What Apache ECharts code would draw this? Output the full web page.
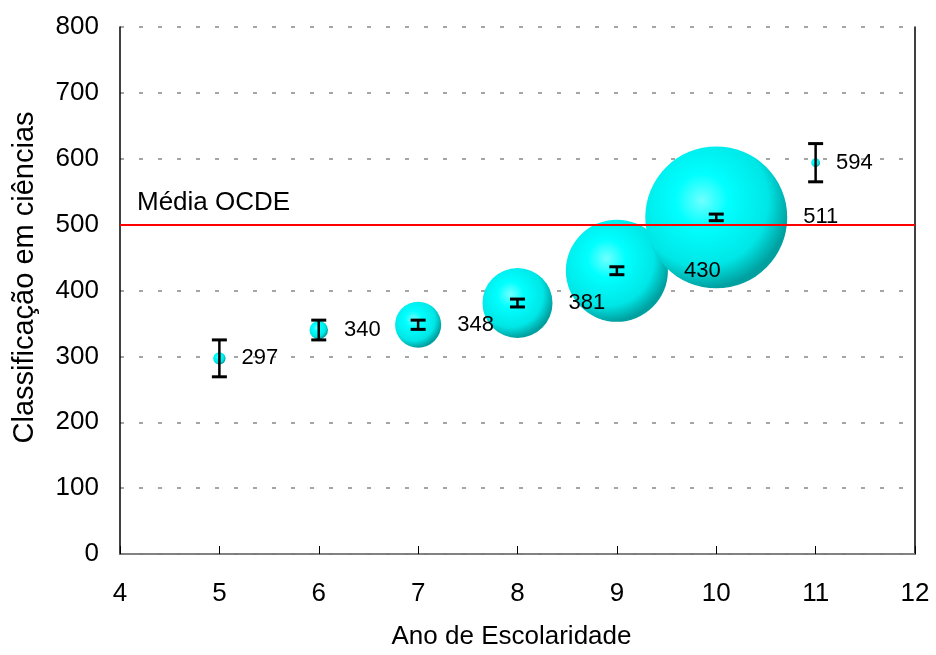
<!DOCTYPE html>
<html>
<head>
<meta charset="utf-8">
<script src="https://cdn.jsdelivr.net/npm/echarts@6/dist/echarts.min.js"></script>
<style>
  html, body { margin: 0; padding: 0; background: #fff; }
  #chart { width: 936px; height: 655px; }
</style>
</head>
<body>
<div id="chart"></div>
<script>
// ano de escolaridade, classificacao, % de alunos (tamanho da bolha), erro padrao
var anos = [5, 6, 7, 8, 9, 10, 11];
var scores = [297, 340, 348, 381, 430, 511, 594];
var alunos = [0.4, 0.9, 5.6, 12.9, 27.4, 53.0, 0.2];
var erros = [28, 15, 7, 6, 6, 5, 29];
var mediaOCDE = 500;

var font = 'Arial, "Liberation Sans", sans-serif';

var chartDom = document.getElementById('chart');
var chart = echarts.init(chartDom);

var bubbleData = anos.map(function (a, i) { return [a, scores[i], alunos[i]]; });
var errData = anos.map(function (a, i) { return [a, scores[i] - erros[i], scores[i] + erros[i]]; });

var bubbleColor = {
  type: 'radial', x: 0.4, y: 0.38, r: 0.62,
  colorStops: [
    { offset: 0, color: '#70ffff' },
    { offset: 0.3, color: '#00ffff' },
    { offset: 0.75, color: '#00e6e6' },
    { offset: 1, color: '#00a0a0' }
  ]
};

var option = {
  animation: false,
  textStyle: { fontFamily: font },
  grid: { left: 120, right: 21, top: 27, bottom: 100 },
  xAxis: [{
    type: 'value',
    min: 4, max: 12, interval: 1,
    name: 'Ano de Escolaridade',
    nameLocation: 'middle',
    nameGap: 70,
    nameTextStyle: { fontSize: 26, color: '#000', fontFamily: font, padding: [0, 12, 0, 0] },
    axisLine: { show: true, onZero: false, lineStyle: { color: '#000', width: 1.5 } },
    axisTick: { show: true, inside: true, length: 8, lineStyle: { color: '#000' } },
    axisLabel: { fontSize: 26, color: '#000', margin: 27, fontFamily: font },
    splitLine: { show: false }
  }, {
    type: 'value', position: 'top',
    min: 4, max: 12, interval: 1,
    axisLine: { show: true, lineStyle: { color: '#999', width: 1.5 } },
    axisTick: { show: false }, axisLabel: { show: false }, splitLine: { show: false }
  }],
  yAxis: [{
    type: 'value',
    min: 0, max: 800, interval: 100,
    name: 'Classificação em ciências',
    nameLocation: 'middle',
    nameGap: 81,
    nameTextStyle: { fontSize: 29, color: '#000', fontFamily: font, padding: [0, 0, 0, 26] },
    axisLine: { show: true, lineStyle: { color: '#000', width: 1.5 } },
    axisTick: { show: false },
    axisLabel: { fontSize: 26, color: '#000', margin: 21, fontFamily: font },
    splitLine: { show: true, lineStyle: { color: '#888', width: 1.5, type: [4, 15] } }
  }, {
    type: 'value', position: 'right',
    min: 0, max: 800, interval: 100,
    axisLine: { show: true, lineStyle: { color: '#000', width: 1.5 } },
    axisTick: { show: false }, axisLabel: { show: false }, splitLine: { show: false }
  }],
  graphic: [{
    type: 'text',
    left: 137, top: 190,
    style: { text: 'Média OCDE', fontSize: 26, fill: '#000', fontFamily: font }
  }],
  series: [{
    type: 'scatter',
    data: bubbleData,
    symbolSize: function (d) { return 19.5 * Math.sqrt(d[2]); },
    itemStyle: { color: bubbleColor, opacity: 1 },
    label: {
      show: true,
      position: 'right',
      distance: 16,
      formatter: function (p) { return p.value[1]; },
      fontSize: 22,
      color: '#000',
      fontFamily: font
    },
    z: 2,
    markLine: {
      silent: true,
      symbol: 'none',
      label: { show: false },
      lineStyle: { color: '#ff0000', width: 2, type: 'solid' },
      data: [{ yAxis: mediaOCDE }],
      z: 5
    }
  }, {
    type: 'custom',
    data: errData,
    z: 6,
    renderItem: function (params, api) {
      var x = api.value(0);
      var lo = api.coord([x, api.value(1)]);
      var hi = api.coord([x, api.value(2)]);
      var w = 7.5;
      var style = { stroke: '#000', lineWidth: 2.5 };
      return {
        type: 'group',
        children: [
          { type: 'line', shape: { x1: lo[0], y1: lo[1], x2: hi[0], y2: hi[1] }, style: style },
          { type: 'line', shape: { x1: lo[0] - w, y1: lo[1], x2: lo[0] + w, y2: lo[1] }, style: { stroke: '#000', lineWidth: 3 } },
          { type: 'line', shape: { x1: hi[0] - w, y1: hi[1], x2: hi[0] + w, y2: hi[1] }, style: { stroke: '#000', lineWidth: 3 } }
        ]
      };
    }
  }]
};

option && chart.setOption(option);
</script>
</body>
</html>
